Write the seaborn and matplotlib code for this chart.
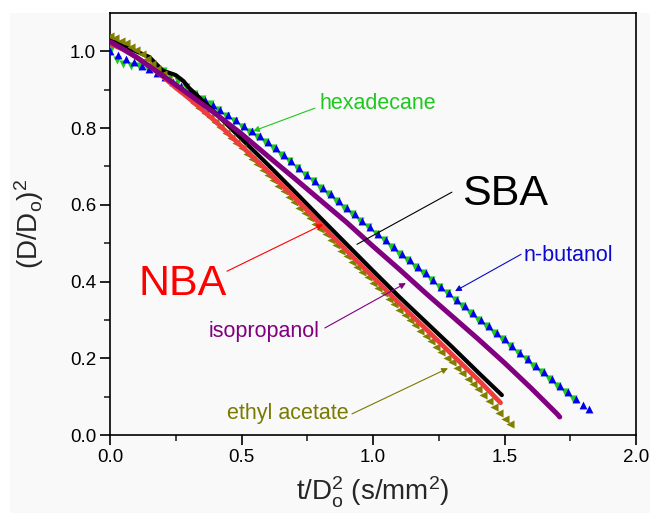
import matplotlib
matplotlib.use("Agg")
import matplotlib.pyplot as plt
import seaborn as sns
from matplotlib.patches import Rectangle

# ---------------- data ----------------
# n-butanol (blue triangles)
but_x = [0.00, 0.03, 0.06, 0.09, 0.12, 0.15, 0.18, 0.21, 0.24, 0.27, 0.30, 0.33, 0.36, 0.39,
         0.42, 0.45, 0.48, 0.51, 0.54, 0.57, 0.60, 0.63, 0.66, 0.69, 0.72, 0.75, 0.78, 0.81,
         0.84, 0.87, 0.90, 0.93, 0.96, 0.99, 1.02, 1.05, 1.08, 1.11, 1.14, 1.17, 1.20, 1.23,
         1.26, 1.29, 1.32, 1.35, 1.38, 1.41, 1.44, 1.47, 1.50, 1.53, 1.56, 1.59, 1.62, 1.65,
         1.68, 1.71, 1.74, 1.77, 1.80, 1.82]
but_y = [1.000, 0.990, 0.980, 0.971, 0.963, 0.955, 0.944, 0.933, 0.921, 0.911, 0.900, 0.887,
         0.874, 0.860, 0.847, 0.833, 0.820, 0.806, 0.792, 0.779, 0.765, 0.748, 0.731, 0.713,
         0.696, 0.679, 0.662, 0.645, 0.627, 0.610, 0.593, 0.576, 0.559, 0.542, 0.524, 0.507,
         0.490, 0.473, 0.456, 0.438, 0.421, 0.404, 0.387, 0.370, 0.352, 0.335, 0.318, 0.301,
         0.284, 0.266, 0.249, 0.232, 0.215, 0.198, 0.180, 0.163, 0.146, 0.129, 0.112, 0.094,
         0.077, 0.068]

# hexadecane (green down triangles)
hex_x = [0.005, 0.025, 0.05, 0.08, 0.11, 0.14, 0.17, 0.20, 0.23, 0.26, 0.29, 0.32, 0.35, 0.38,
         0.41, 0.44, 0.47, 0.50, 0.53, 0.56, 0.59, 0.62, 0.65, 0.68, 0.71, 0.74, 0.77, 0.80,
         0.83, 0.86, 0.89, 0.92, 0.95, 0.98, 1.01, 1.04, 1.07, 1.10, 1.13, 1.16, 1.19, 1.22,
         1.25, 1.28, 1.31, 1.34, 1.37, 1.40, 1.43, 1.46, 1.49, 1.52, 1.55, 1.58, 1.61, 1.64,
         1.67, 1.70, 1.73, 1.76]
hex_y = [1.005, 0.978, 0.966, 0.962, 0.963, 0.960, 0.957, 0.950, 0.937, 0.922, 0.906, 0.890,
         0.876, 0.862, 0.848, 0.831, 0.818, 0.804, 0.790, 0.777, 0.763, 0.748, 0.730, 0.713,
         0.696, 0.679, 0.662, 0.644, 0.627, 0.610, 0.593, 0.576, 0.558, 0.541, 0.524, 0.507,
         0.490, 0.472, 0.455, 0.438, 0.421, 0.404, 0.387, 0.369, 0.352, 0.335, 0.318, 0.301,
         0.283, 0.266, 0.249, 0.232, 0.215, 0.198, 0.180, 0.163, 0.146, 0.129, 0.112, 0.094]

# SBA (black)
sba_x = [0.00, 0.05, 0.10, 0.15, 0.20, 0.25, 0.28, 0.30, 0.40, 0.50, 0.60, 0.70, 0.80, 0.90,
         1.00, 1.10, 1.20, 1.30, 1.40, 1.49]
sba_y = [1.030, 1.015, 1.000, 0.985, 0.950, 0.938, 0.922, 0.905, 0.840, 0.772, 0.705, 0.636,
         0.566, 0.497, 0.428, 0.360, 0.295, 0.230, 0.163, 0.104]

# NBA (red)
nba_x = [0.00, 0.05, 0.10, 0.15, 0.20, 0.25, 0.30, 0.40, 0.50, 0.60, 0.70, 0.80, 0.90, 1.00,
         1.10, 1.20, 1.30, 1.40, 1.485]
nba_y = [1.020, 1.005, 0.985, 0.962, 0.935, 0.905, 0.878, 0.818, 0.753, 0.688, 0.620, 0.550,
         0.480, 0.412, 0.343, 0.277, 0.210, 0.144, 0.084]

# isopropanol (purple)
iso_x = [0.00, 0.04, 0.10, 0.20, 0.30, 0.40, 0.50, 0.60, 0.70, 0.80, 0.90, 1.00, 1.10, 1.20,
         1.30, 1.40, 1.50, 1.60, 1.70, 1.71]
iso_y = [1.025, 1.010, 0.985, 0.937, 0.888, 0.838, 0.785, 0.727, 0.670, 0.612, 0.554, 0.492,
         0.432, 0.370, 0.310, 0.250, 0.188, 0.123, 0.055, 0.047]

# ethyl acetate (olive triangles)
eth_x = [0.00, 0.02, 0.04, 0.06, 0.08, 0.10, 0.12, 0.14, 0.16, 0.18, 0.20, 0.22, 0.24, 0.26,
         0.28, 0.30, 0.32, 0.34, 0.36, 0.38, 0.40, 0.42, 0.44, 0.46, 0.48, 0.50, 0.52, 0.54,
         0.56, 0.58, 0.60, 0.62, 0.64, 0.66, 0.68, 0.70, 0.72, 0.74, 0.76, 0.78, 0.80, 0.82,
         0.84, 0.86, 0.88, 0.90, 0.92, 0.94, 0.96, 0.98, 1.00, 1.02, 1.04, 1.06, 1.08, 1.10,
         1.12, 1.14, 1.16, 1.18, 1.20, 1.22, 1.24, 1.26, 1.28, 1.30, 1.32, 1.34, 1.36, 1.38,
         1.40, 1.42, 1.44, 1.46, 1.48, 1.50, 1.52]
eth_y = [1.040, 1.034, 1.028, 1.022, 1.012, 1.003, 0.993, 0.980, 0.968, 0.955, 0.942, 0.928,
         0.915, 0.903, 0.891, 0.879, 0.866, 0.853, 0.840, 0.828, 0.815, 0.802, 0.788, 0.774,
         0.761, 0.747, 0.733, 0.719, 0.706, 0.692, 0.678, 0.664, 0.650, 0.636, 0.621, 0.607,
         0.593, 0.579, 0.565, 0.551, 0.537, 0.523, 0.508, 0.494, 0.480, 0.466, 0.452, 0.438,
         0.424, 0.411, 0.397, 0.383, 0.369, 0.355, 0.341, 0.327, 0.313, 0.300, 0.286, 0.272,
         0.258, 0.244, 0.230, 0.216, 0.202, 0.189, 0.175, 0.161, 0.147, 0.133, 0.119, 0.104,
         0.089, 0.074, 0.058, 0.043, 0.028]

x_ticks = [0.0, 0.5, 1.0, 1.5, 2.0]
y_ticks = [0.0, 0.2, 0.4, 0.6, 0.8, 1.0]

# ---------------- style ----------------
sns.set_theme(style="ticks")
plt.rcParams['font.family'] = ['Liberation Sans', 'DejaVu Sans']
plt.rcParams['mathtext.fontset'] = 'custom'
plt.rcParams['mathtext.rm'] = 'Liberation Sans'
plt.rcParams['mathtext.it'] = 'Liberation Sans:italic'
plt.rcParams['mathtext.bf'] = 'Liberation Sans:bold'

BG = '#f9f9f9'
GREEN = '#1ec81e'
BLUE = '#0000ee'
RED = '#f03c3c'
PURPLE = '#800080'
OLIVE = '#808000'

fig = plt.figure(figsize=(6.5, 5.13), dpi=100, facecolor='white')
bg = Rectangle((10 / 650, 0), 1, 1 - 13 / 513, transform=fig.transFigure,
               facecolor=BG, edgecolor='none', zorder=-10)
fig.patches.append(bg)
ax = fig.add_axes([110 / 650, 1 - 435 / 513, 526 / 650, 422 / 513])
ax.set_zorder(1)
ax.set_facecolor(BG)

# ---------------- series ----------------
sns.scatterplot(x=hex_x, y=hex_y, marker='v', s=34, color=GREEN, linewidth=0, ax=ax, zorder=3)
sns.scatterplot(x=but_x, y=but_y, marker='^', s=32, color=BLUE, linewidth=0, ax=ax, zorder=3)
sns.lineplot(x=sba_x, y=sba_y, color='black', lw=3.0, sort=False, estimator=None, ax=ax,
             zorder=4, solid_capstyle='round')
sns.scatterplot(x=eth_x, y=eth_y, marker='<', s=34, color=OLIVE, linewidth=0, ax=ax, zorder=5)
sns.lineplot(x=nba_x, y=nba_y, color=RED, lw=3.4, sort=False, estimator=None, ax=ax,
             zorder=6, solid_capstyle='round')
sns.lineplot(x=iso_x, y=iso_y, color=PURPLE, lw=3.6, sort=False, estimator=None, ax=ax,
             zorder=7, solid_capstyle='round')

# ---------------- axes ----------------
ax.set_xlim(0, 2.0)
ax.set_ylim(0, 1.1)
ax.set_xticks(x_ticks)
ax.set_yticks(y_ticks)
ax.set_xticklabels([f"{v:.1f}" for v in x_ticks])
ax.set_yticklabels([f"{v:.1f}" for v in y_ticks])
ax.set_xticks([0.25, 0.75, 1.25, 1.75], minor=True)
ax.set_yticks([0.1, 0.3, 0.5, 0.7, 0.9], minor=True)
ax.tick_params(axis='both', which='major', direction='out', length=7, width=1.2,
               labelsize=13.5, colors='black', pad=3)
ax.tick_params(axis='both', which='minor', direction='out', length=4, width=1.2)
for side in ['left', 'bottom', 'right', 'top']:
    ax.spines[side].set_linewidth(1.2)
    ax.spines[side].set_color('black')

ax.set_xlabel(r'$\mathrm{t/D_o^2\ (s/mm^2)}$', fontsize=20, labelpad=6)
ax.set_ylabel(r'$\mathrm{(D/D_o)^2}$', fontsize=20, labelpad=17)

# ---------------- annotations ----------------
def note(text, txy, start, tip, color, size, head=True):
    ax.text(txy[0], txy[1], text, color=color, fontsize=size, ha='left', va='baseline',
            zorder=8)
    ax.annotate('', xy=tip, xytext=start,
                arrowprops=dict(arrowstyle='-|>' if head else '-', color=color, lw=0.8,
                                mutation_scale=9, shrinkA=0, shrinkB=0), zorder=8)

note('hexadecane', (0.795, 0.849), (0.779, 0.852), (0.544, 0.792), GREEN, 15.5)
note('SBA', (1.338, 0.599), (1.300, 0.633), (0.939, 0.497), 'black', 31, head=False)
note('n-butanol', (1.574, 0.453), (1.563, 0.471), (1.312, 0.375), '#0a0acc', 15.5)
note('NBA', (0.110, 0.365), (0.445, 0.427), (0.810, 0.549), '#ff0000', 31)
note('isopropanol', (0.376, 0.255), (0.817, 0.279), (1.125, 0.396), PURPLE, 15.5)
note('ethyl acetate', (0.445, 0.042), (0.920, 0.055), (1.285, 0.174), '#7a7a00', 15.5)

fig.savefig('out.png', dpi=100, facecolor=fig.get_facecolor())
